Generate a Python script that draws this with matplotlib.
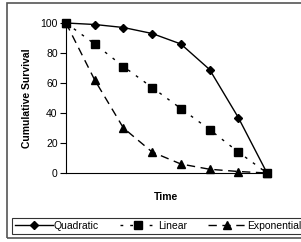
import matplotlib.pyplot as plt
from matplotlib.patches import Rectangle

plt.rcParams['font.family'] = ['Liberation Sans', 'DejaVu Sans']

# Datos
time = [0, 1, 2, 3, 4, 5, 6, 7]
quadratic = [100, 99, 97, 93, 86, 69, 37, 0]
linear = [100, 86, 71, 57, 43, 29, 14, 0]
exponential = [100, 62, 30, 14, 6, 2.5, 1, 0]
yticks = [0, 20, 40, 60, 80, 100]

fig = plt.figure(figsize=(3.01, 2.42), dpi=100)
ax = fig.add_axes([66/301, 1-173/242, (267-66)/301, 150/242])

# Series
ax.plot(time, quadratic, color='black', lw=1.0, marker='D', ms=4.2, label='Quadratic')
ax.plot(time, linear, color='black', lw=1.0, ls=(0, (2, 5)), marker='s', ms=5.8, label='Linear')
ax.plot(time, exponential, color='black', lw=1.0, ls=(0, (6, 4)), marker='^', ms=5.5, label='Exponential')

# Ejes
ax.set_xlim(0, 7)
ax.set_ylim(0, 100)
ax.set_yticks(yticks)
ax.set_xticks([])
ax.tick_params(axis='y', direction='out', length=4, width=0.8, labelsize=7.5, pad=2)
for s in ['top', 'right']:
    ax.spines[s].set_visible(False)
ax.spines['left'].set_linewidth(0.8)
ax.spines['bottom'].set_linewidth(0.8)
for ln in ax.get_lines():
    ln.set_clip_on(False)
ax.set_xlabel('Time', fontsize=7.5, fontweight='bold', labelpad=14)
ax.set_ylabel('Cumulative Survival', fontsize=7.5, fontweight='bold', labelpad=6)

# Leyenda
leg = fig.legend(loc='lower left', bbox_to_anchor=(12/301, 1-234/242, (304-12)/301, 17/242),
                 mode='expand', ncol=3, fontsize=7.5, frameon=True, fancybox=False,
                 handlelength=3.6, handletextpad=0.1, columnspacing=0.6,
                 borderaxespad=0, borderpad=0.3)
leg.get_frame().set_edgecolor('black')
leg.get_frame().set_linewidth(0.8)

# Borde exterior
fig.patches.append(Rectangle((7/301, 4/242), 1.0, 1-7/242, transform=fig.transFigure,
                             fill=False, edgecolor='#555555', lw=1.2))

fig.savefig('out.png', dpi=100)
